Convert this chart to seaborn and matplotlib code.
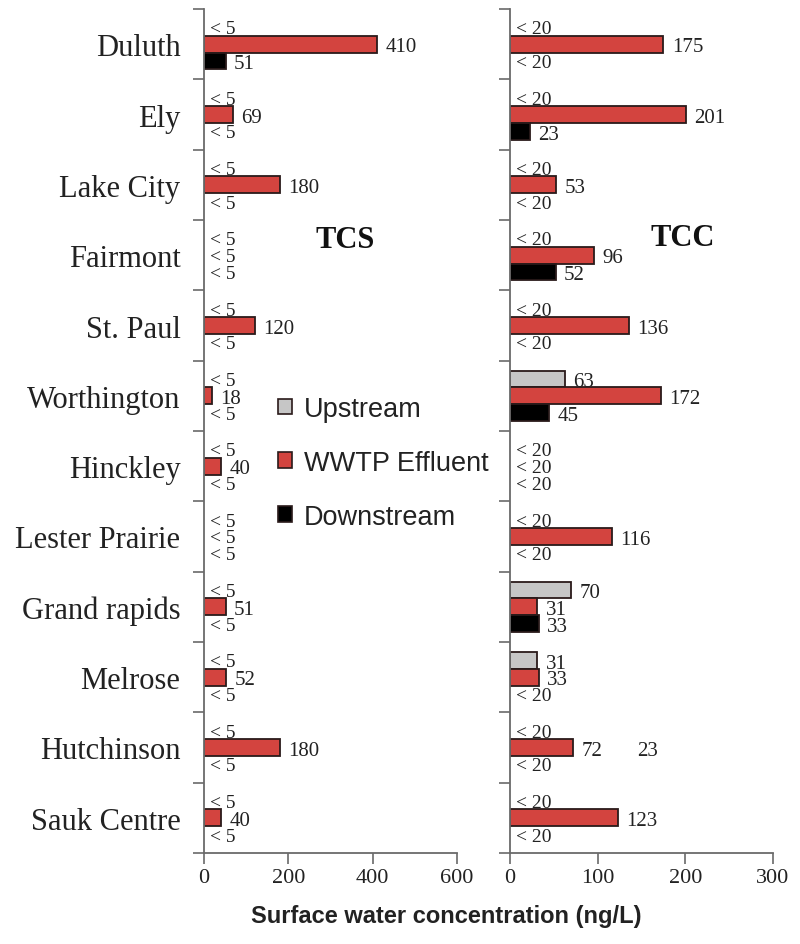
import numpy as np
import pandas as pd
import matplotlib
matplotlib.use("Agg")
import matplotlib.pyplot as plt
from matplotlib.patches import Patch
import seaborn as sns

sns.set_style("white")
plt.rcParams["font.family"] = ["Liberation Serif", "DejaVu Serif"]

nan = np.nan
cities = ["Duluth", "Ely", "Lake City", "Fairmont", "St. Paul", "Worthington",
          "Hinckley", "Lester Prairie", "Grand rapids", "Melrose", "Hutchinson",
          "Sauk Centre"]
series = ["Upstream", "WWTP Effluent", "Downstream"]

tcs_up = [nan, nan, nan, nan, nan, nan, nan, nan, nan, nan, nan, nan]
tcs_wwtp = [410, 69, 180, nan, 120, 18, 40, nan, 51, 52, 180, 40]
tcs_down = [51, nan, nan, nan, nan, nan, nan, nan, nan, nan, nan, nan]

tcc_up = [nan, nan, nan, nan, nan, 63, nan, nan, 70, 31, nan, nan]
tcc_wwtp = [175, 201, 53, 96, 136, 172, nan, 116, 31, 33, 72, 123]
tcc_down = [nan, 23, nan, 52, nan, 45, nan, nan, 33, nan, nan, nan]

tcs_limit = "< 5"
tcc_limit = "< 20"
tcs_ticks = [0, 200, 400, 600]
tcc_ticks = [0, 100, 200, 300]
# stray label printed in the original TCC panel next to Hutchinson
extra_city = "Hutchinson"
extra_text = "23"
extra_x = 145

colors = {"Upstream": "#c6c6c6", "WWTP Effluent": "#d3443f", "Downstream": "#000000"}


def make_df(up, ww, dn):
    rows = []
    for s, vals in zip(series, [up, ww, dn]):
        for c, v in zip(cities, vals):
            rows.append({"city": c, "series": s, "value": 0.0 if np.isnan(v) else v})
    return pd.DataFrame(rows)


fig = plt.figure(figsize=(8.0, 9.45), dpi=100)
axL = fig.add_axes([204 / 800, 1 - 854 / 945, 253 / 800, 844 / 945])
axR = fig.add_axes([510 / 800, 1 - 854 / 945, 263 / 800, 844 / 945])

spine_col = "#6a6a6a"
for ax, up, ww, dn, lim, ticks, xmax, title, tpos in [
    (axL, tcs_up, tcs_wwtp, tcs_down, tcs_limit, tcs_ticks, 600, "TCS", (0.557, 0.727)),
    (axR, tcc_up, tcc_wwtp, tcc_down, tcc_limit, tcc_ticks, 300, "TCC", (0.658, 0.729)),
]:
    df = make_df(up, ww, dn)
    sns.barplot(data=df, x="value", y="city", hue="series", hue_order=series,
                order=cities, palette=colors, orient="h", width=0.72,
                saturation=1, edgecolor="#2a1a1a", linewidth=1.3, errorbar=None,
                legend=False, ax=ax)
    for cont, vals in zip(ax.containers, [up, ww, dn]):
        for bar, v in zip(cont, vals):
            yc = bar.get_y() + bar.get_height() / 2
            if np.isnan(v):
                bar.set_linewidth(0)
                ax.annotate(lim, (0, yc), xytext=(4, -1), textcoords="offset points",
                            ha="left", va="center", fontsize=14, color="#222222")
            else:
                ax.annotate(f"{int(v)}", (bar.get_width(), yc), xytext=(6, -2),
                            textcoords="offset points", ha="left", va="center",
                            fontsize=15, color="#222222")
    ax.set_xlim(0, xmax)
    ax.set_ylim(len(cities) - 0.5, -0.5)
    ax.set_xticks(ticks)
    ax.set_xticklabels([str(t) for t in ticks], fontsize=16, color="#222222")
    ax.set_yticks(np.arange(len(cities)))
    ax.set_yticks(np.arange(-0.5, len(cities), 1), minor=True)
    ax.tick_params(axis="y", which="major", length=0, pad=17)
    ax.tick_params(axis="y", which="minor", length=8, width=1.2, color=spine_col,
                   direction="out", left=True)
    ax.tick_params(axis="x", which="major", length=8, width=1.2, color=spine_col,
                   direction="out", bottom=True, pad=3)
    ax.set_xlabel("")
    ax.set_ylabel("")
    sns.despine(ax=ax)
    for sp in ["left", "bottom"]:
        ax.spines[sp].set_color(spine_col)
        ax.spines[sp].set_linewidth(1.3)
    ax.text(tpos[0], tpos[1], title, transform=ax.transAxes, ha="center",
            va="center", fontsize=22, fontweight="bold", color="#111111")

axL.set_yticklabels(cities, fontsize=22, color="#222222")
axR.set_yticklabels([])
axR.annotate(extra_text, (extra_x, cities.index(extra_city)), xytext=(0, -2),
             textcoords="offset points", ha="left", va="center", fontsize=15,
             color="#222222")

handles = [Patch(facecolor=colors[s], edgecolor="#2a1a1a", linewidth=1.2, label=s)
           for s in series]
fig.legend(handles=handles, loc="upper left", bbox_to_anchor=(0.3475, 0.580),
           frameon=False, handlelength=0.5, handleheight=0.5,
           handletextpad=0.45, labelspacing=1.03, borderpad=0, borderaxespad=0,
           prop={"family": "Liberation Sans", "size": 19.5}, labelcolor="#222222")

fig.text(446 / 800, 1 - 917 / 945, "Surface water concentration (ng/L)",
         ha="center", va="center", fontsize=17, fontweight="bold",
         family="Liberation Sans", color="#222222")

fig.savefig("out.png", dpi=100)
